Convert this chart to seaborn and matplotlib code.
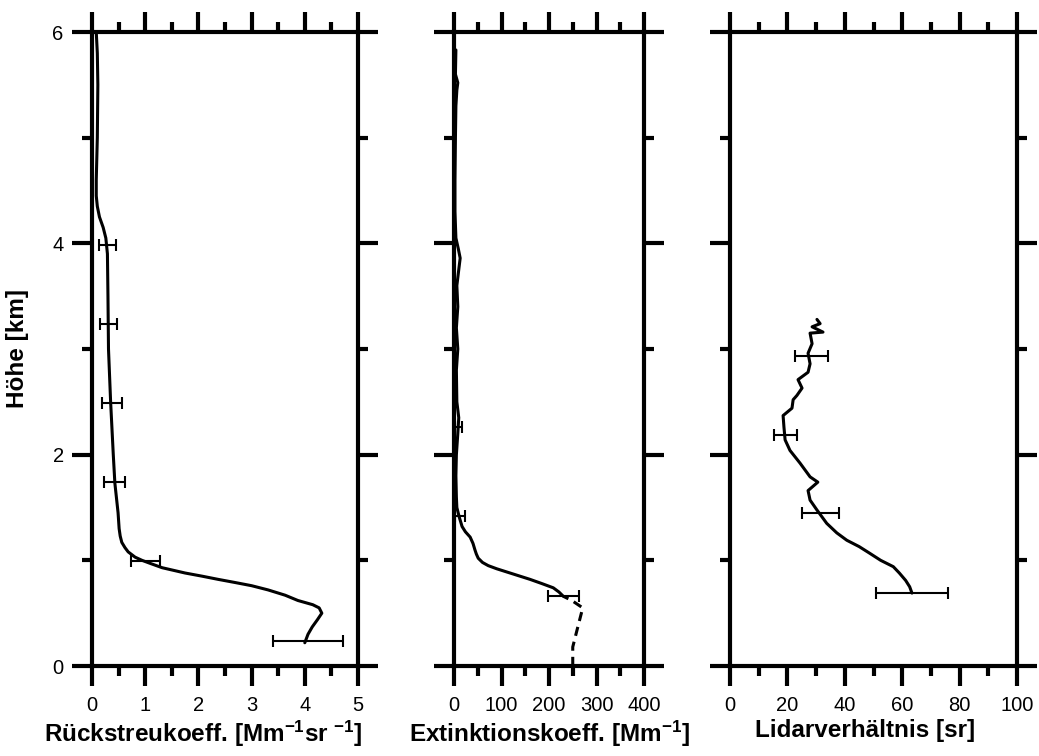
import matplotlib
matplotlib.use("Agg")
import matplotlib.pyplot as plt
import seaborn as sns
import numpy as np
import pandas as pd
from matplotlib.ticker import MultipleLocator, FixedLocator

# ---------------- data ----------------
# Panel 1: backscatter coefficient [Mm-1 sr-1] vs height [km]
bsc_h = [0.22, 0.30, 0.37, 0.44, 0.50, 0.55, 0.58, 0.62, 0.67, 0.72, 0.76, 0.79, 0.82, 0.85,
         0.88, 0.93, 0.97, 1.00, 1.03, 1.08, 1.12, 1.17, 1.23, 1.30, 1.45, 1.73, 2.00, 2.50,
         3.00, 3.50, 3.90, 4.05, 4.15, 4.25, 4.35, 4.45, 4.60, 5.00, 5.50, 5.80, 6.00]
bsc_v = [4.00, 4.06, 4.14, 4.24, 4.32, 4.27, 4.15, 3.87, 3.63, 3.31, 3.00, 2.69, 2.37, 2.07,
         1.75, 1.32, 1.10, 0.94, 0.81, 0.68, 0.62, 0.56, 0.53, 0.51, 0.49, 0.43, 0.40, 0.35,
         0.31, 0.30, 0.29, 0.26, 0.21, 0.14, 0.10, 0.08, 0.08, 0.10, 0.11, 0.10, 0.08]
bsc_err_h = [0.24, 0.99, 1.74, 2.49, 3.24, 3.98]
bsc_err_lo = [3.40, 0.73, 0.23, 0.19, 0.15, 0.13]
bsc_err_hi = [4.72, 1.28, 0.62, 0.56, 0.47, 0.45]

# Panel 2: extinction coefficient [Mm-1]
ext_dash_h = [0.00, 0.18, 0.34, 0.55, 0.62, 0.66]
ext_dash_v = [250, 250, 259, 271, 248, 230]
ext_h = [0.66, 0.70, 0.74, 0.78, 0.82, 0.86, 0.89, 0.92, 0.95, 0.98, 1.02, 1.06, 1.10, 1.16,
         1.22, 1.27, 1.32, 1.41, 1.50, 1.60, 1.80, 2.00, 2.20, 2.35, 2.50, 2.80, 3.00, 3.20,
         3.40, 3.60, 3.75, 3.86, 3.95, 4.05, 4.30, 4.60, 5.00, 5.30, 5.45, 5.52, 5.60, 5.83]
ext_v = [230, 221, 209, 185, 160, 132, 111, 90, 72, 60, 51, 47, 44, 40,
         34, 24, 17, 11, 6, 5, 4, 5, 8, 10, 6, 5, 8, 5,
         8, 6, 10, 13, 9, 4, 2, 2, 3, 4, 6, 8, 3, 4]
ext_err_h = [0.66, 1.42, 2.26]
ext_err_lo = [198, 2, 3]
ext_err_hi = [263, 23, 16]

# Panel 3: lidar ratio [sr]
lr_h = [0.69, 0.75, 0.81, 0.88, 0.94, 1.00, 1.07, 1.13, 1.19, 1.26, 1.35, 1.48, 1.57, 1.66,
        1.74, 1.79, 1.92, 2.04, 2.14, 2.26, 2.37, 2.44, 2.52, 2.56, 2.63, 2.71, 2.78, 2.86,
        2.96, 3.05, 3.15, 3.16, 3.21, 3.24, 3.28]
lr_v = [63.4, 62.6, 61.2, 59.0, 56.9, 52.5, 48.5, 45.0, 40.7, 37.2, 33.7, 30.2, 27.9, 27.2,
        30.6, 27.9, 24.4, 20.9, 19.2, 18.8, 18.5, 21.6, 22.0, 23.3, 25.1, 23.7, 27.2, 27.9,
        27.2, 28.6, 27.9, 32.4, 28.6, 31.4, 30.3]
lr_err_h = [0.69, 1.45, 2.19, 2.93]
lr_err_lo = [51, 25, 15.4, 22.6]
lr_err_hi = [76, 38, 23.4, 34.1]

x_labels = [r"Rückstreukoeff. [Mm$^{-1}$sr $^{-1}$]",
            r"Extinktionskoeff. [Mm$^{-1}$]",
            "Lidarverhältnis [sr]"]
y_label = "Höhe [km]"

# ---------------- style ----------------
sns.set_theme(style="white")
plt.rcParams["font.family"] = ["Liberation Sans", "DejaVu Sans"]
plt.rcParams["mathtext.fontset"] = "custom"
plt.rcParams["mathtext.rm"] = "Liberation Sans:bold"
plt.rcParams["mathtext.bf"] = "Liberation Sans:bold"
plt.rcParams["mathtext.it"] = "Liberation Sans:bold"
plt.rcParams["text.color"] = "black"
plt.rcParams["axes.labelcolor"] = "black"
plt.rcParams["xtick.color"] = "black"
plt.rcParams["ytick.color"] = "black"

W, H = 1039, 756
fig = plt.figure(figsize=(W / 100, H / 100), dpi=100)
fig.patch.set_facecolor("white")

def frac(l, r):
    return [l / W, (H - 666) / H, (r - l) / W, (666 - 32) / H]

axes = [fig.add_axes(frac(92, 358)),
        fig.add_axes(frac(454, 644)),
        fig.add_axes(frac(730, 1017))]

xlims = [(0, 5), (0, 400), (0, 100)]
xmaj = [1, 100, 20]
xmin_ = [0.5, 50, 10]

SPW = 3.0
LW = 2.2
ERR_LW = 1.5
LABEL_FS = 17.5
TICK_FS = 14.5

for i, ax in enumerate(axes):
    ax.set_facecolor("white")
    for s in ax.spines.values():
        s.set_visible(True)
        s.set_color("black")
        s.set_linewidth(SPW)
    ax.grid(False)

# Panel 1
df1 = pd.DataFrame({"h": bsc_h, "v": bsc_v})
sns.lineplot(data=df1, x="v", y="h", orient="y", sort=False, estimator=None,
             color="black", lw=LW, ax=axes[0])
c1 = np.interp(bsc_err_h, bsc_h, bsc_v)
axes[0].errorbar(c1, bsc_err_h,
                 xerr=[c1 - np.array(bsc_err_lo), np.array(bsc_err_hi) - c1],
                 fmt="none", ecolor="black", elinewidth=ERR_LW, capsize=4, capthick=ERR_LW)

# Panel 2
df2d = pd.DataFrame({"h": ext_dash_h, "v": ext_dash_v})
sns.lineplot(data=df2d, x="v", y="h", orient="y", sort=False, estimator=None,
             color="black", lw=LW, ax=axes[1], linestyle=(0, (3, 2)))
df2 = pd.DataFrame({"h": ext_h, "v": ext_v})
sns.lineplot(data=df2, x="v", y="h", orient="y", sort=False, estimator=None,
             color="black", lw=LW, ax=axes[1])
c2 = np.interp(ext_err_h, ext_h, ext_v)
axes[1].errorbar(c2, ext_err_h,
                 xerr=[np.clip(c2 - np.array(ext_err_lo), 0, None), np.array(ext_err_hi) - c2],
                 fmt="none", ecolor="black", elinewidth=ERR_LW, capsize=4, capthick=ERR_LW)

# Panel 3
df3 = pd.DataFrame({"h": lr_h, "v": lr_v})
sns.lineplot(data=df3, x="v", y="h", orient="y", sort=False, estimator=None,
             color="black", lw=LW, ax=axes[2])
c3 = np.interp(lr_err_h, lr_h, lr_v)
axes[2].errorbar(c3, lr_err_h,
                 xerr=[c3 - np.array(lr_err_lo), np.array(lr_err_hi) - c3],
                 fmt="none", ecolor="black", elinewidth=ERR_LW, capsize=4, capthick=ERR_LW)

label_x = [0.42, 0.50, 0.47]
for i, ax in enumerate(axes):
    leg = ax.get_legend()
    if leg:
        leg.remove()
    ax.set_xlim(*xlims[i])
    ax.set_ylim(0, 6)
    ax.xaxis.set_major_locator(MultipleLocator(xmaj[i]))
    ax.xaxis.set_minor_locator(MultipleLocator(xmin_[i]))
    ax.yaxis.set_major_locator(FixedLocator([0, 2, 4, 6]))
    ax.yaxis.set_minor_locator(FixedLocator([1, 3, 5]))
    ax.tick_params(axis="both", which="major", direction="out", length=14.4, width=SPW,
                   color="black", labelsize=TICK_FS, labelcolor="black")
    ax.tick_params(axis="both", which="minor", direction="out", length=7.5, width=SPW,
                   color="black")
    ax.tick_params(axis="x", which="both", top=True, bottom=True, labeltop=False,
                   labelbottom=True, pad=7)
    ax.tick_params(axis="y", which="both", left=True, right=True, labelright=False,
                   labelleft=(i == 0), pad=6)
    ax.set_ylabel("")
    ax.set_xlabel(x_labels[i], fontsize=LABEL_FS, fontweight="bold", color="black")
    ax.xaxis.set_label_coords(label_x[i], -0.084)
    ax.xaxis.label.set_va("top")

axes[0].set_ylabel(y_label, fontsize=LABEL_FS, fontweight="bold", color="black")
axes[0].yaxis.set_label_coords(-0.235, 0.5)

fig.savefig("out.png", dpi=100, facecolor="white")
